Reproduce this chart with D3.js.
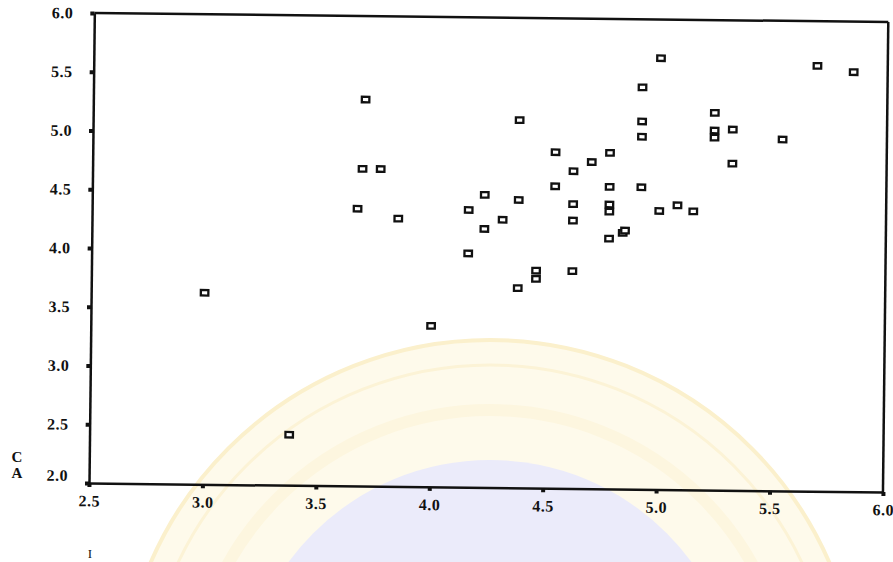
<!DOCTYPE html>
<html>
<head>
<meta charset="utf-8">
<script src="https://cdn.jsdelivr.net/npm/d3@7"></script>
<style>
  body { margin: 0; background: #fff; }
  svg { display: block; }
  text { font-family: "Liberation Serif", "Times New Roman", serif; font-weight: bold; fill: #111; }
</style>
</head>
<body>
<svg id="chart" width="893" height="562"></svg>
<script>
// scatter values (x, y pairs by index)
var xValues = [3.00, 3.38, 3.70, 3.69, 3.77, 3.67, 3.85, 4.00, 4.16, 4.16,
               4.23, 4.23, 4.31, 4.38, 4.38, 4.38, 4.46, 4.46, 4.54, 4.54,
               4.62, 4.62, 4.62, 4.62, 4.70, 4.78, 4.78, 4.78, 4.78, 4.78,
               4.84, 4.85, 5.00, 4.92, 4.92, 4.92, 4.92, 5.00, 5.08, 5.15,
               5.24, 5.24, 5.24, 5.32, 5.32, 5.54, 5.69, 5.85];
var yValues = [3.63, 2.43, 5.29, 4.70, 4.70, 4.36, 4.28, 3.37, 4.36, 3.99,
               4.49, 4.20, 4.28, 5.13, 4.45, 3.70, 3.85, 3.78, 4.86, 4.57,
               4.70, 4.42, 4.28, 3.85, 4.78, 4.86, 4.57, 4.42, 4.36, 4.13,
               4.18, 4.20, 5.67, 5.42, 5.13, 5.00, 4.57, 4.37, 4.42, 4.37,
               5.21, 5.06, 5.00, 5.07, 4.78, 4.99, 5.62, 5.57];

var xTicks = [2.5, 3.0, 3.5, 4.0, 4.5, 5.0, 5.5, 6.0];
var yTicks = [2.0, 2.5, 3.0, 3.5, 4.0, 4.5, 5.0, 5.5, 6.0];
var sideLabels = ["C", "A"];
var bottomLabel = "I";

var svg = d3.select("#chart");
var plotW = 794, plotH = 470;
var marginLeft = 89, marginTop = 13;
var tilt = 0.65; // the scanned page sits a little crooked

// faint seal printed behind the page
var seal = svg.append("g");
seal.append("circle").attr("cx", 490).attr("cy", 710).attr("r", 370)
  .attr("fill", "#fefaeb").attr("stroke", "#fbf0cc").attr("stroke-width", 4);
seal.append("circle").attr("cx", 490).attr("cy", 710).attr("r", 345)
  .attr("fill", "none").attr("stroke", "#fcf3d6").attr("stroke-width", 3);
seal.append("circle").attr("cx", 490).attr("cy", 710).attr("r", 300)
  .attr("fill", "none").attr("stroke", "#fdf6df").attr("stroke-width", 12);
seal.append("circle").attr("cx", 490).attr("cy", 710).attr("r", 250)
  .attr("fill", "#ebebfa");

var g = svg.append("g")
  .attr("transform", "rotate(" + tilt + "," + marginLeft + "," + (marginTop + plotH) + ") translate(" + marginLeft + "," + marginTop + ")");

var x = d3.scaleLinear().domain([2.5, 6.0]).range([0, plotW]);
var y = d3.scaleLinear().domain([2.0, 6.0]).range([plotH, 0]);

// top and right frame
g.append("line").attr("x1", 0).attr("y1", 0).attr("x2", plotW).attr("y2", 0)
  .attr("stroke", "#111").attr("stroke-width", 2.5);
g.append("line").attr("x1", plotW).attr("y1", 0).attr("x2", plotW).attr("y2", plotH)
  .attr("stroke", "#111").attr("stroke-width", 2.5);

var xAxis = d3.axisBottom(x).tickValues(xTicks).tickFormat(d3.format(".1f"))
  .tickSize(4).tickSizeOuter(0).tickPadding(8);
var yAxis = d3.axisLeft(y).tickValues(yTicks).tickFormat(d3.format(".1f"))
  .tickSize(4).tickSizeOuter(0).tickPadding(17);

var gx = g.append("g").attr("transform", "translate(0," + plotH + ")").call(xAxis);
var gy = g.append("g").call(yAxis);

[gx, gy].forEach(function(a) {
  a.select(".domain").attr("stroke", "#111").attr("stroke-width", 2.5);
  a.selectAll(".tick line").attr("stroke", "#111").attr("stroke-width", 4);
  a.selectAll(".tick text")
    .attr("fill", "#111")
    .style("font-size", "16px")
    .style("letter-spacing", "0.5px")
    .attr("font-family", null);
});
// lowest y label is nudged up off the corner
gy.selectAll(".tick text").filter(function(d) { return d === 2.0; }).attr("dy", "-0.15em");

// markers
var pts = d3.range(xValues.length).map(function(i) { return [xValues[i], yValues[i]]; });
g.selectAll("rect.pt").data(pts).enter().append("rect")
  .attr("class", "pt")
  .attr("x", function(d) { return x(d[0]) - 3.75; })
  .attr("y", function(d) { return y(d[1]) - 2.75; })
  .attr("width", 7.5).attr("height", 5.5)
  .attr("fill", "#fff").attr("stroke", "#111").attr("stroke-width", 2.3);

// stray axis letters left over from the scan
svg.selectAll("text.side").data(sideLabels).enter().append("text")
  .attr("class", "side")
  .attr("x", 17).attr("y", function(d, i) { return 462 + i * 16; })
  .attr("text-anchor", "middle")
  .style("font-size", "15px")
  .text(function(d) { return d; });
svg.append("text").attr("x", 90).attr("y", 558)
  .attr("text-anchor", "middle")
  .style("font-size", "13px").style("font-weight", "normal")
  .text(bottomLabel);
</script>
</body>
</html>
